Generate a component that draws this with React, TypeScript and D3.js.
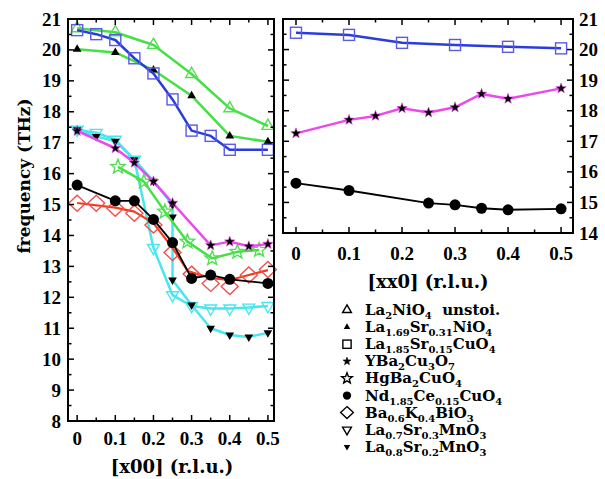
import React from "react";
import * as d3 from "d3";

type P = [number, number];

// ---------- Left panel data: [x00] ----------
const la2nio4L: P[] = [[0, 20.7], [0.1, 20.57], [0.2, 20.16], [0.3, 19.22], [0.4, 18.11], [0.5, 17.54]];
const la169L: P[] = [[0, 20.02], [0.1, 19.92], [0.2, 19.35], [0.3, 18.52], [0.4, 17.22], [0.5, 17.03]];
const la185L: P[] = [[0, 20.64], [0.05, 20.51], [0.1, 20.32], [0.15, 19.73], [0.2, 19.24], [0.25, 18.4], [0.3, 17.39], [0.35, 17.22], [0.4, 16.77], [0.5, 16.77]];
const ybcoL: P[] = [[0, 17.38], [0.1, 16.82], [0.15, 16.35], [0.2, 15.75], [0.25, 15.05], [0.35, 13.68], [0.4, 13.8], [0.45, 13.65], [0.5, 13.72]];
const hgbaL: P[] = [[0.107, 16.22], [0.175, 15.74], [0.23, 14.77], [0.289, 13.8], [0.354, 13.26], [0.42, 13.47], [0.477, 13.53]];
const ndL: P[] = [[0, 15.63], [0.1, 15.12], [0.15, 15.12], [0.2, 14.52], [0.25, 13.77], [0.3, 12.61], [0.35, 12.72], [0.4, 12.58], [0.5, 12.45]];
const bakL: P[] = [[0, 15.04], [0.05, 15.04], [0.1, 14.88], [0.15, 14.72], [0.2, 14.34], [0.25, 13.45], [0.3, 12.75], [0.35, 12.45], [0.4, 12.35], [0.45, 12.72], [0.5, 12.9]];
const bakFitL: P[] = [[0, 15.05], [0.1, 14.9], [0.15, 14.77], [0.2, 14.4], [0.25, 13.6], [0.29, 12.85], [0.35, 12.62], [0.4, 12.56], [0.45, 12.72], [0.5, 12.88]];
const la07L: P[] = [[0, 17.42], [0.05, 17.32], [0.1, 17.1], [0.15, 16.45], [0.2, 13.6], [0.25, 12.07], [0.3, 11.72], [0.35, 11.64], [0.4, 11.64], [0.45, 11.67], [0.5, 11.72]];
const la08L: P[] = [[0, 17.42], [0.05, 17.2], [0.1, 17.05], [0.15, 16.45], [0.2, 15.75], [0.25, 15.0], [0.25, 14.6], [0.25, 12.56], [0.3, 11.75], [0.35, 11.0], [0.4, 10.78], [0.45, 10.72], [0.5, 10.85]];

// ---------- Right panel data: [xx0] ----------
const la185R: P[] = [[0, 20.55], [0.1, 20.48], [0.2, 20.22], [0.3, 20.15], [0.4, 20.09], [0.5, 20.04]];
const ybcoR: P[] = [[0, 17.26], [0.1, 17.7], [0.15, 17.83], [0.2, 18.08], [0.25, 17.94], [0.3, 18.11], [0.35, 18.55], [0.4, 18.39], [0.5, 18.73]];
const ndR: P[] = [[0, 15.63], [0.1, 15.39], [0.25, 14.98], [0.3, 14.92], [0.35, 14.81], [0.4, 14.76], [0.5, 14.79]];

// ---------- Ticks / labels ----------
const xTickLabels = ["0", "0.1", "0.2", "0.3", "0.4", "0.5"];
const leftYLabels = ["8", "9", "10", "11", "12", "13", "14", "15", "16", "17", "18", "19", "20", "21"];
const rightYLabels = ["14", "15", "16", "17", "18", "19", "20", "21"];
const legendLabels = [
  "La_{2}NiO_{4}  unstoi.",
  "La_{1.69}Sr_{0.31}NiO_{4}",
  "La_{1.85}Sr_{0.15}CuO_{4}",
  "YBa_{2}Cu_{3}O_{7}",
  "HgBa_{2}CuO_{4}",
  "Nd_{1.85}Ce_{0.15}CuO_{4}",
  "Ba_{0.6}K_{0.4}BiO_{3}",
  "La_{0.7}Sr_{0.3}MnO_{3}",
  "La_{0.8}Sr_{0.2}MnO_{3}",
];
const legendMarkers = ["triUp", "triUpF", "square", "starS", "starO", "circle", "diamond", "triDown", "triDownF"];

const GREEN = "#44e044";
const GREEN_M = "#55dd55";
const BLUE = "#2a3cdc";
const BLUE_M = "#5a5ae6";
const MAGENTA = "#ec48ec";
const CYAN = "#48e6f0";
const RED = "#f03c1e";
const RED_M = "#f05050";

const TITLE_FONT = "'DejaVu Serif', serif";
const TICK_FONT = "'Liberation Serif', serif";

function starPath(R: number, r: number) {
  const pts: string[] = [];
  for (let i = 0; i < 10; i++) {
    const a = -Math.PI / 2 + (i * Math.PI) / 5;
    const rr = i % 2 === 0 ? R : r;
    pts.push(`${(rr * Math.cos(a)).toFixed(2)},${(rr * Math.sin(a)).toFixed(2)}`);
  }
  return "M" + pts.join("L") + "Z";
}

function Marker({ type, x, y, color, scale = 1 }: { type: string; x: number; y: number; color?: string; scale?: number }) {
  const t = `translate(${x},${y}) scale(${scale})`;
  const sw = 1.4 / scale;
  switch (type) {
    case "triUp": {
      const r = 6.8;
      return <path transform={t} d={`M0,${-r}L${r * 0.866},${r * 0.5}L${-r * 0.866},${r * 0.5}Z`} fill="none" stroke={color} strokeWidth={sw} />;
    }
    case "triUpF": {
      const r = 5;
      return <path transform={t} d={`M0,${-r}L${r * 0.866},${r * 0.5}L${-r * 0.866},${r * 0.5}Z`} fill="#000" />;
    }
    case "triDown": {
      const r = 6.8;
      return <path transform={t} d={`M0,${r}L${r * 0.866},${-r * 0.5}L${-r * 0.866},${-r * 0.5}Z`} fill="none" stroke={color} strokeWidth={sw} />;
    }
    case "triDownF": {
      const r = 5;
      return <path transform={t} d={`M0,${r}L${r * 0.866},${-r * 0.5}L${-r * 0.866},${-r * 0.5}Z`} fill="#000" />;
    }
    case "square":
      return <rect transform={t} x={-5.5} y={-5.5} width={11} height={11} fill="none" stroke={color} strokeWidth={sw} />;
    case "circle":
      return <circle transform={t} r={5.5} fill="#000" />;
    case "diamond":
      return <path transform={t} d="M0,-8L8.5,0L0,8L-8.5,0Z" fill="none" stroke={color} strokeWidth={sw} />;
    case "starS":
      return <path transform={t} d={starPath(5.5, 2.3)} fill="#000" stroke={color || "#000"} strokeWidth={0.6 / scale} />;
    case "starO":
      return <path transform={t} d={starPath(7.5, 3.2)} fill="none" stroke={color} strokeWidth={sw} />;
    default:
      return null;
  }
}

function parseChem(s: string) {
  const parts = s.split(/(_\{[^}]*\})/).filter((p) => p.length > 0);
  return parts.map((p) => (p.startsWith("_{") ? { t: p.slice(2, -1), sub: true } : { t: p, sub: false }));
}

function ChemText({ x, y, s, size, subSize }: { x: number; y: number; s: string; size: number; subSize: number }) {
  const segs = parseChem(s);
  let inSub = false;
  const kids: React.ReactNode[] = [];
  segs.forEach((sg, i) => {
    let dy = 0;
    if (sg.sub && !inSub) dy = 4;
    if (!sg.sub && inSub) dy = -4;
    inSub = sg.sub;
    kids.push(
      <tspan key={i} dy={dy} fontSize={sg.sub ? subSize : size}>
        {sg.t}
      </tspan>
    );
  });
  return (
    <text x={x} y={y} fontFamily={TITLE_FONT} fontWeight="bold" fontSize={size} style={{ whiteSpace: "pre" }} fill="#000">
      {kids}
    </text>
  );
}

interface PanelProps {
  x0: number; x1: number; y0: number; y1: number;
  xDom: [number, number]; yDom: [number, number];
  yLabels: string[]; labelSide: "left" | "right";
  xLabelBaseline: number;
  children: (sx: d3.ScaleLinear<number, number>, sy: d3.ScaleLinear<number, number>) => React.ReactNode;
}

function Panel({ x0, x1, y0, y1, xDom, yDom, yLabels, labelSide, xLabelBaseline, children }: PanelProps) {
  const sx = d3.scaleLinear().domain(xDom).range([x0, x1]);
  const sy = d3.scaleLinear().domain(yDom).range([y1, y0]);
  const xMinor = d3.range(0, 0.5001, 0.05);
  const yAll = d3.range(yDom[0], yDom[1] + 0.001, 0.5);
  const maj = 6, mnr = 3.5;
  const ticks: React.ReactNode[] = [];
  xMinor.forEach((v, i) => {
    const X = sx(v);
    const L = Math.abs((v * 10) - Math.round(v * 10)) < 1e-6 ? maj : mnr;
    ticks.push(<line key={"xb" + i} x1={X} x2={X} y1={y1} y2={y1 - L} stroke="#000" strokeWidth={1.5} />);
    ticks.push(<line key={"xt" + i} x1={X} x2={X} y1={y0} y2={y0 + L} stroke="#000" strokeWidth={1.5} />);
  });
  yAll.forEach((v, i) => {
    const Y = sy(v);
    const L = Math.abs(v - Math.round(v)) < 1e-6 ? maj : mnr;
    ticks.push(<line key={"yl" + i} x1={x0} x2={x0 + L} y1={Y} y2={Y} stroke="#000" strokeWidth={1.5} />);
    ticks.push(<line key={"yr" + i} x1={x1} x2={x1 - L} y1={Y} y2={Y} stroke="#000" strokeWidth={1.5} />);
  });
  return (
    <g>
      {children(sx, sy)}
      <rect x={x0} y={y0} width={x1 - x0} height={y1 - y0} fill="none" stroke="#000" strokeWidth={2} />
      {ticks}
      {xTickLabels.map((lab) => (
        <text key={"xl" + lab} x={sx(+lab)} y={xLabelBaseline} textAnchor="middle" fontFamily={TICK_FONT} fontWeight="bold" fontSize={19}>
          {lab}
        </text>
      ))}
      {yLabels.map((lab) => (
        <text
          key={"ylab" + lab}
          x={labelSide === "left" ? x0 - 7 : x1 + 6}
          y={sy(+lab) + 6.5}
          textAnchor={labelSide === "left" ? "end" : "start"}
          fontFamily={TICK_FONT}
          fontWeight="bold"
          fontSize={19}
        >
          {lab}
        </text>
      ))}
    </g>
  );
}

function Series({ sx, sy, data, lineData, color, width, marker, mColor, scale }: {
  sx: d3.ScaleLinear<number, number>; sy: d3.ScaleLinear<number, number>;
  data: P[]; lineData?: P[]; color: string; width: number; marker: string; mColor?: string; scale?: number;
}) {
  const line = d3.line<P>().x((d) => sx(d[0])).y((d) => sy(d[1]));
  return (
    <g>
      <path d={line(lineData || data) || ""} fill="none" stroke={color} strokeWidth={width} strokeLinejoin="round" />
      {data.map((d, i) => (
        <Marker key={i} type={marker} x={sx(d[0])} y={sy(d[1])} color={mColor} scale={scale} />
      ))}
    </g>
  );
}

export default function App() {
  return (
    <svg width={605} height={479} style={{ position: "absolute", left: 0, top: 0, background: "#fff" }}>
      <rect width={605} height={479} fill="#fff" />
      <Panel x0={68} x1={274} y0={19} y1={421} xDom={[-0.024, 0.516]} yDom={[8, 21]} yLabels={leftYLabels} labelSide="left" xLabelBaseline={445}>
        {(sx, sy) => (
          <g>
            <Series sx={sx} sy={sy} data={la2nio4L} color={GREEN} width={2.5} marker="triUp" mColor={GREEN_M} />
            <Series sx={sx} sy={sy} data={la169L} color={GREEN} width={2.5} marker="triUpF" />
            <Series sx={sx} sy={sy} data={la185L} color={BLUE} width={2.5} marker="square" mColor={BLUE_M} />
            <Series sx={sx} sy={sy} data={la07L} color={CYAN} width={2.5} marker="triDown" mColor={CYAN} />
            <Series sx={sx} sy={sy} data={la08L} color={CYAN} width={2.5} marker="triDownF" />
            <Series sx={sx} sy={sy} data={bakL} lineData={bakFitL} color={RED} width={2.2} marker="diamond" mColor={RED_M} />
            <Series sx={sx} sy={sy} data={ndL} color="#000" width={1.8} marker="circle" />
            <Series sx={sx} sy={sy} data={hgbaL} color={GREEN} width={2.5} marker="starO" mColor={GREEN_M} />
            <Series sx={sx} sy={sy} data={ybcoL} color={MAGENTA} width={2.5} marker="starS" mColor={MAGENTA} />
          </g>
        )}
      </Panel>
      <Panel x0={283} x1={573} y0={19} y1={233} xDom={[-0.0245, 0.5225]} yDom={[14, 21]} yLabels={rightYLabels} labelSide="right" xLabelBaseline={260}>
        {(sx, sy) => (
          <g>
            <Series sx={sx} sy={sy} data={la185R} color={BLUE} width={2.5} marker="square" mColor={BLUE_M} />
            <Series sx={sx} sy={sy} data={ybcoR} color={MAGENTA} width={2.5} marker="starS" mColor={MAGENTA} />
            <Series sx={sx} sy={sy} data={ndR} color="#000" width={1.8} marker="circle" />
          </g>
        )}
      </Panel>
      <text transform="translate(30,176) rotate(-90)" textAnchor="middle" fontFamily={TITLE_FONT} fontWeight="bold" fontSize={17}>
        frequency (THz)
      </text>
      <text x={172} y={473} textAnchor="middle" fontFamily={TITLE_FONT} fontWeight="bold" fontSize={18}>
        [x00] (r.l.u.)
      </text>
      <text x={428} y={288} textAnchor="middle" fontFamily={TITLE_FONT} fontWeight="bold" fontSize={18}>
        [xx0] (r.l.u.)
      </text>
      {legendLabels.map((lab, i) => {
        const base = 315 + i * 17.1;
        return (
          <g key={"lg" + i}>
            <Marker type={legendMarkers[i]} x={347} y={base - 5} color="#000" scale={0.75} />
            <ChemText x={365} y={base} s={lab} size={15} subSize={10} />
          </g>
        );
      })}
    </svg>
  );
}
